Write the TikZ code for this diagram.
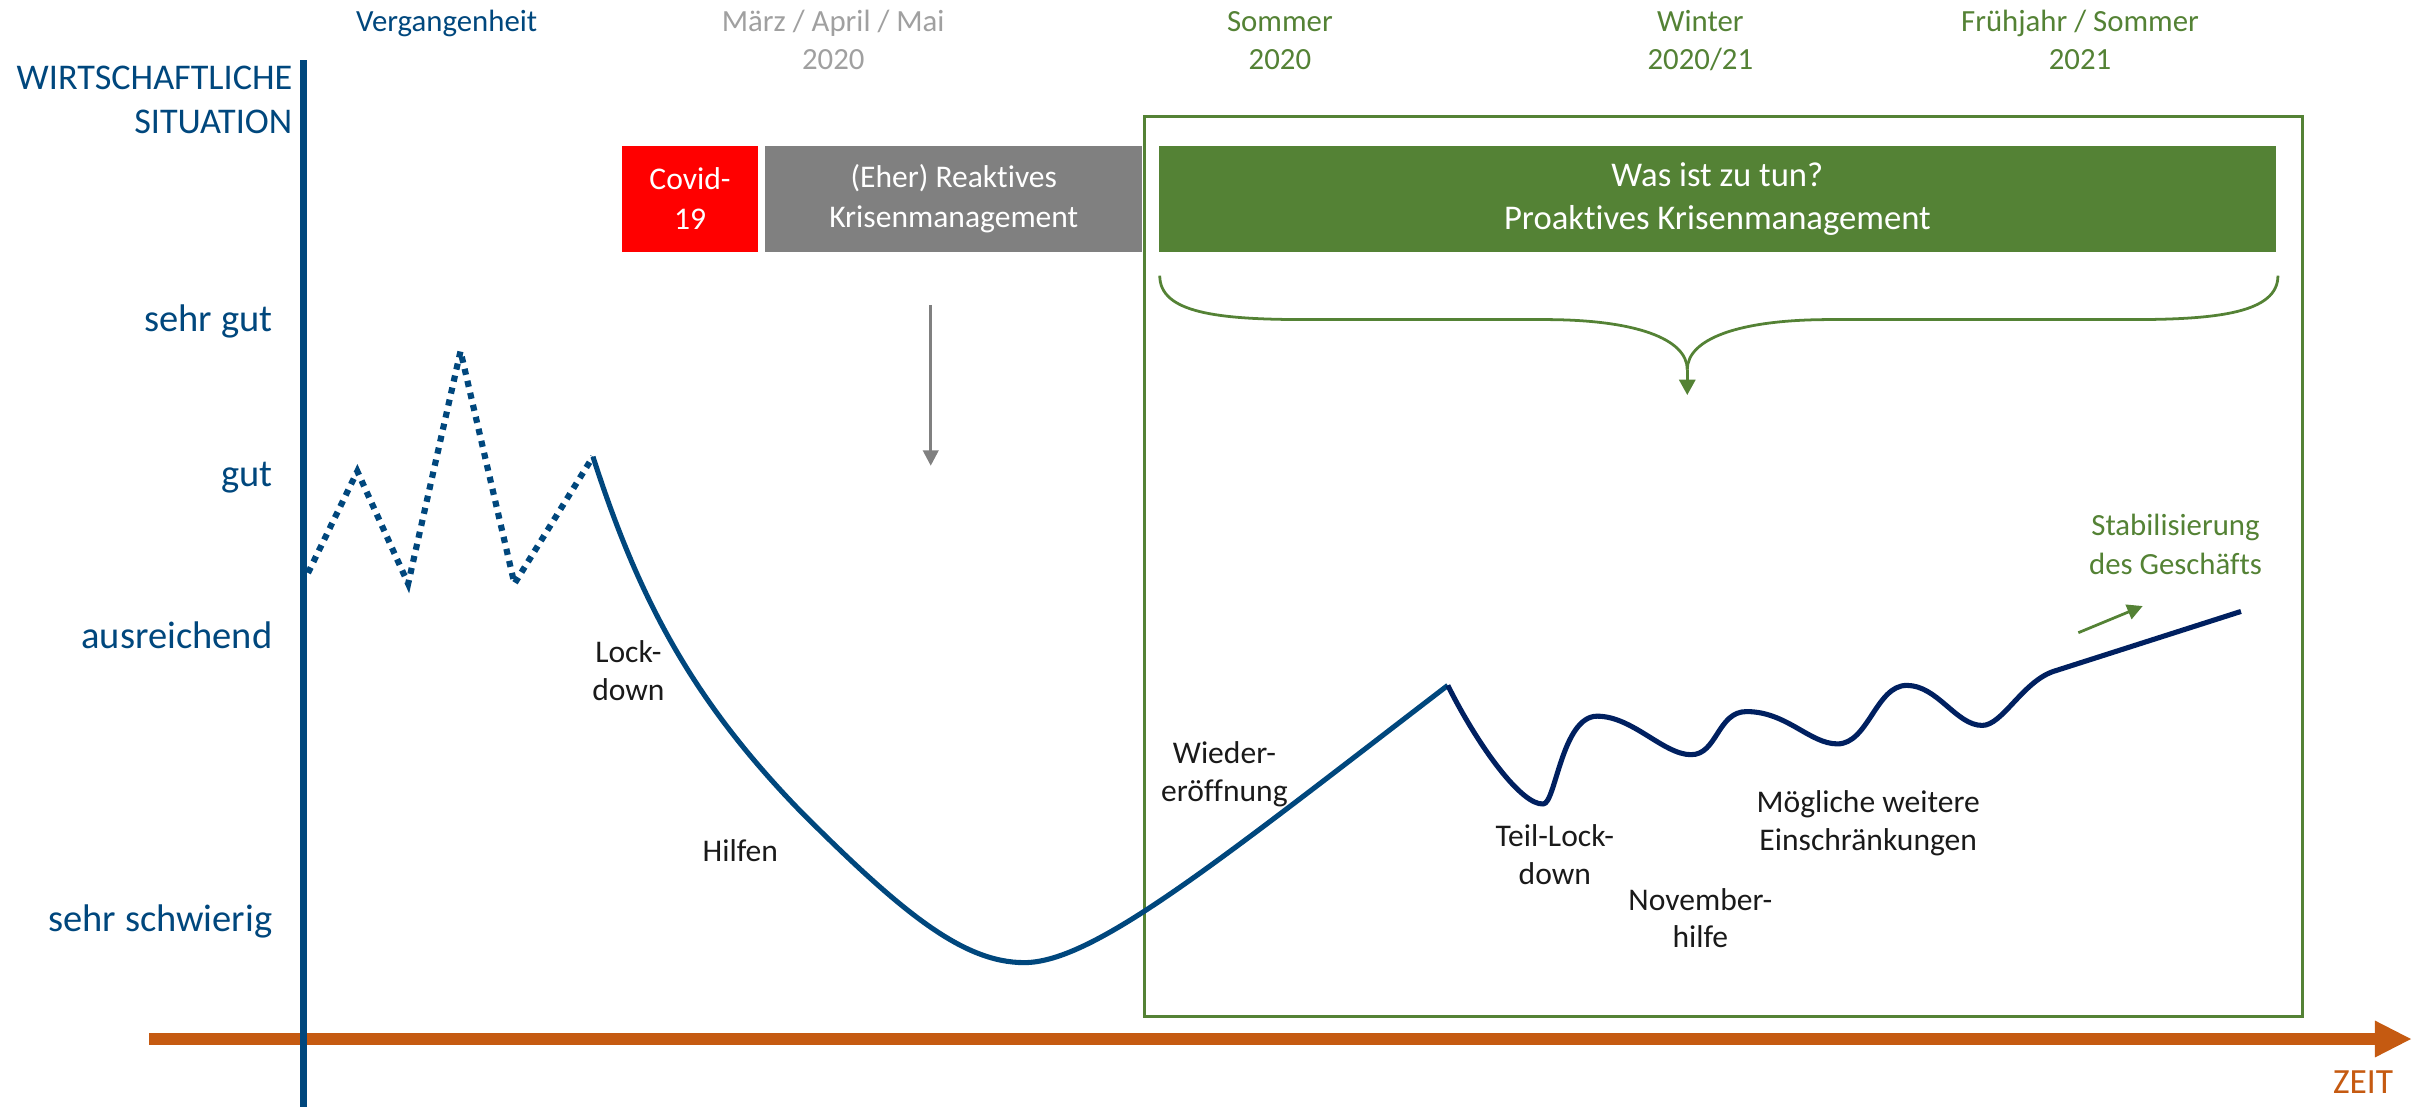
\documentclass[tikz,border=0pt]{standalone}
\usepackage{fontspec}
\setmainfont{Carlito}[Ligatures=NoCommon]
\usetikzlibrary{arrows.meta}

\definecolor{axisblue}{RGB}{0,71,125}
\definecolor{navy}{RGB}{0,32,96}
\definecolor{timeorange}{RGB}{197,90,17}
\definecolor{leafgreen}{RGB}{84,130,53}
\definecolor{covidred}{RGB}{255,0,0}
\definecolor{boxgray}{RGB}{128,128,128}
\definecolor{softgray}{RGB}{160,160,160}
\definecolor{labelblack}{RGB}{26,26,26}

\tikzset{
  axislbl/.style={anchor=base east, text=axisblue, inner sep=0pt,
    font=\fontsize{25}{30}\selectfont},
  toplbl/.style={anchor=base, align=center, inner sep=0pt,
    font=\fontsize{20}{24.4}\selectfont},
  evlbl/.style={anchor=base, align=center, inner sep=0pt, text=labelblack,
    font=\fontsize{20.5}{24.5}\selectfont},
  phasebox/.style={minimum height=68.6pt, inner sep=0pt, text=white,
    align=center, font=\fontsize{20.5}{26}\selectfont},
  pastline/.style={axisblue, line width=4pt, dash pattern=on 4pt off 4pt},
  crisisline/.style={axisblue, line width=3.3pt},
  recoveryline/.style={navy, line width=3.3pt},
  thinarrow/.style={line width=1.8pt, -{Triangle[length=10pt,width=10pt]}},
}

\begin{document}
\begin{tikzpicture}[x=1pt, y=-1pt]
\useasboundingbox (0,0) rectangle (1568,719);

% ---- frame of the proactive phase
\coordinate (frameNW) at (743,75.8);
\coordinate (frameSE) at (1494.7,659.7);
\draw[leafgreen, line width=2pt] (frameNW) rectangle (frameSE);

% ---- time axis
\coordinate (tStart) at (97,674.6);
\coordinate (tEnd) at (1566,674.6);
\draw[timeorange, line width=7.5pt, -{Triangle[length=24pt,width=22pt]}] (tStart) -- (tEnd);
\node[anchor=base east, inner sep=0pt, text=timeorange,
      font=\fontsize{23}{28}\selectfont] (zeit) at (1554,710.3) {ZEIT};

% ---- situation axis
\coordinate (sTop) at (197,39);
\coordinate (sBot) at (197,719);
\draw[axisblue, line width=5pt] (sTop) -- (sBot);

% multi-line nodes are placed by the baseline of their last line
\node[anchor=base east, align=right, inner sep=0pt, text=axisblue,
      font=\fontsize{23.5}{28.6}\selectfont] (ws) at (190,86.6)
      {WIRTSCHAFTLICHE\\SITUATION};
\node[axislbl] (sehrgut) at (177,215.4) {sehr gut};
\node[axislbl] (gut) at (177,316) {gut};
\node[axislbl] (ausr) at (177,421) {ausreichend};
\node[axislbl] (schwierig) at (177,605) {sehr schwierig};

% ---- period headings
\node[toplbl, text=axisblue] (past) at (290,20.6) {Vergangenheit};
\node[toplbl, text=softgray] (spring) at (541,45) {März / April / Mai\\2020};
\node[toplbl, text=leafgreen] (summer) at (831,45) {Sommer\\2020};
\node[toplbl, text=leafgreen] (winter) at (1104,45) {Winter\\2020/21};
\node[toplbl, text=leafgreen] (next) at (1350.5,45) {Frühjahr / Sommer\\2021};

% ---- phase boxes
\node[phasebox, fill=covidred, minimum width=88pt] (covid) at (448,129.1) {Covid-\\19};
\node[phasebox, fill=boxgray, minimum width=244.5pt] (reactive) at (619.25,129.1)
  {(Eher) Reaktives\\Krisenmanagement};
\node[phasebox, fill=leafgreen, minimum width=725.5pt,
      font=\fontsize{22.5}{28}\selectfont] (proactive) at (1115.05,129.1)
  {Was ist zu tun?\\Proaktives Krisenmanagement};

% ---- arrow below the reactive phase
\coordinate (reactA) at (604.3,198);
\coordinate (reactB) at (604.3,302.4);
\draw[boxgray, thinarrow] (reactA) -- (reactB);

% ---- brace below the proactive phase
\coordinate (braceL) at (753,179);
\coordinate (braceR) at (1479,179);
\coordinate (braceM) at (1095.5,240);
\coordinate (braceTip) at (1095.5,256.5);
\draw[leafgreen, line width=1.8pt]
  (braceL) .. controls (753,203) and (790,207.5) .. (848,207.5)
  -- (1003,207.5) .. controls (1062,207.5) and (1095.5,220) .. (braceM);
\draw[leafgreen, line width=1.8pt]
  (braceR) .. controls (1479,203) and (1440,207.5) .. (1384,207.5)
  -- (1188,207.5) .. controls (1129,207.5) and (1095.5,220) .. (braceM);
\draw[leafgreen, line width=2pt, -{Triangle[length=10pt,width=10.4pt]}] (braceM) -- (braceTip);

% ---- past: fluctuating business (dotted)
\coordinate (p0) at (200,372);
\coordinate (p1) at (232,306);
\coordinate (p2) at (265,379);
\coordinate (p3) at (299,228);
\coordinate (p4) at (334,379);
\coordinate (p5) at (385,296.5);
\draw[pastline] (p0) -- (p1) -- (p2) -- (p3) -- (p4) -- (p5);

% ---- crisis: lockdown, bottom, reopening
\coordinate (low) at (665,625);
\coordinate (reopen) at (940,445);
\draw[crisisline, line join=round]
  (p5) .. controls (415,390) and (450,455) .. (520,527)
       .. controls (585,592) and (625,625) .. (low)
       .. controls (710,625) and (790,560) .. (reopen);

% ---- second wave and stabilisation
\coordinate (w1) at (1002,522);
\coordinate (w2) at (1037,465);
\coordinate (w3) at (1098,490);
\coordinate (w4) at (1134,462);
\coordinate (w5) at (1193,483);
\coordinate (w6) at (1238,445);
\coordinate (w7) at (1287,471);
\coordinate (w8) at (1333,436);
\coordinate (wEnd) at (1455,397);
\draw[recoveryline, line join=round]
  (reopen) .. controls (960,485) and (988,523) .. (w1)
  .. controls (1010,522) and (1014,465) .. (w2)
  .. controls (1060,465) and (1080,490) .. (w3)
  .. controls (1115,490) and (1115,462) .. (w4)
  .. controls (1160,462) and (1175,483) .. (w5)
  .. controls (1213,483) and (1218,445) .. (w6)
  .. controls (1258,445) and (1270,471) .. (w7)
  .. controls (1300,471) and (1313,443) .. (w8)
  -- (wEnd);

% ---- event labels
\node[evlbl] (lockdown) at (408,454.5) {Lock-\\down};
\node[evlbl] (hilfen) at (480.7,559.5) {Hilfen};
\node[evlbl] (wieder) at (795,520.5) {Wieder-\\eröffnung};
\node[evlbl] (teil) at (1009.5,574) {Teil-Lock-\\down};
\node[evlbl] (novhilfe) at (1104,615.5) {November-\\hilfe};
\node[evlbl] (moeglich) at (1213,551.9) {Mögliche weitere\\Einschränkungen};

% ---- stabilisation note
\node[toplbl, text=leafgreen, font=\fontsize{20}{24.7}\selectfont] (stab) at (1412.5,372.7)
  {Stabilisierung\\des Geschäfts};
\coordinate (stabA) at (1349.4,410.8);
\coordinate (stabB) at (1391.2,393.5);
\draw[leafgreen, thinarrow] (stabA) -- (stabB);

\end{tikzpicture}
\end{document}
